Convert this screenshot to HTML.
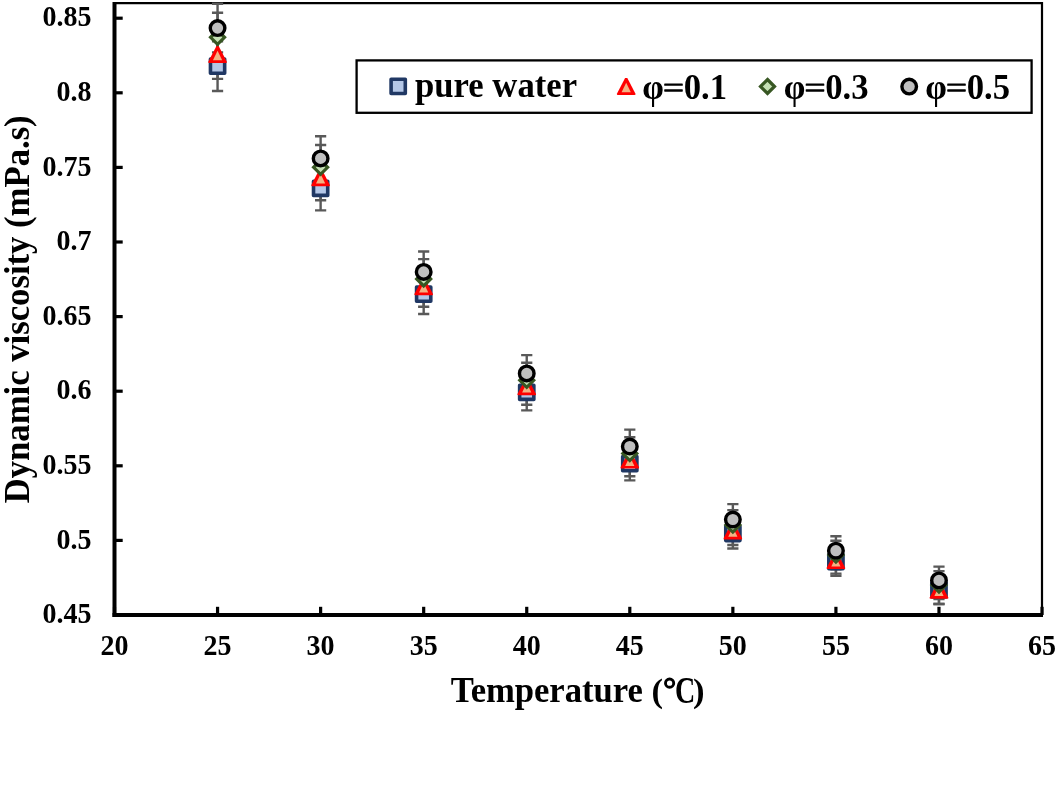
<!DOCTYPE html>
<html><head><meta charset="utf-8"><style>
html,body{margin:0;padding:0;background:#fff;width:1056px;height:787px;overflow:hidden;position:relative}
</style></head><body>
<svg width="1056" height="787" viewBox="0 0 1056 787" style="position:absolute;left:0;top:0;will-change:transform"><g fill="none" stroke="#000"><path d="M114.5 3.1 H1042 V615" stroke-width="2.2"/></g><g stroke="#595959" stroke-width="2.4" fill="none"><path d="M217.56 41.40 V91.00 M211.96 41.40 h11.2 M211.96 91.00 h11.2"/><path d="M217.56 29.90 V78.90 M211.96 29.90 h11.2 M211.96 78.90 h11.2"/><path d="M217.56 12.70 V61.90 M211.96 12.70 h11.2 M211.96 61.90 h11.2"/><path d="M217.56 3.80 V52.40 M211.96 3.80 h11.2 M211.96 52.40 h11.2"/><path d="M320.62 166.20 V210.40 M315.02 166.20 h11.2 M315.02 210.40 h11.2"/><path d="M320.62 155.10 V200.30 M315.02 155.10 h11.2 M315.02 200.30 h11.2"/><path d="M320.62 145.00 V189.60 M315.02 145.00 h11.2 M315.02 189.60 h11.2"/><path d="M320.62 136.20 V180.60 M315.02 136.20 h11.2 M315.02 180.60 h11.2"/><path d="M423.68 274.20 V314.00 M418.08 274.20 h11.2 M418.08 314.00 h11.2"/><path d="M423.68 266.90 V306.70 M418.08 266.90 h11.2 M418.08 306.70 h11.2"/><path d="M423.68 259.10 V298.90 M418.08 259.10 h11.2 M418.08 298.90 h11.2"/><path d="M423.68 251.50 V292.30 M418.08 251.50 h11.2 M418.08 292.30 h11.2"/><path d="M526.74 374.20 V410.40 M521.14 374.20 h11.2 M521.14 410.40 h11.2"/><path d="M526.74 368.70 V404.70 M521.14 368.70 h11.2 M521.14 404.70 h11.2"/><path d="M526.74 362.70 V397.90 M521.14 362.70 h11.2 M521.14 397.90 h11.2"/><path d="M526.74 355.10 V391.70 M521.14 355.10 h11.2 M521.14 391.70 h11.2"/><path d="M629.80 446.80 V480.40 M624.20 446.80 h11.2 M624.20 480.40 h11.2"/><path d="M629.80 443.90 V476.30 M624.20 443.90 h11.2 M624.20 476.30 h11.2"/><path d="M629.80 437.20 V470.00 M624.20 437.20 h11.2 M624.20 470.00 h11.2"/><path d="M629.80 429.60 V463.40 M624.20 429.60 h11.2 M624.20 463.40 h11.2"/><path d="M732.86 518.50 V548.50 M727.26 518.50 h11.2 M727.26 548.50 h11.2"/><path d="M732.86 516.80 V545.00 M727.26 516.80 h11.2 M727.26 545.00 h11.2"/><path d="M732.86 510.10 V540.10 M727.26 510.10 h11.2 M727.26 540.10 h11.2"/><path d="M732.86 504.10 V534.90 M727.26 504.10 h11.2 M727.26 534.90 h11.2"/><path d="M835.92 547.70 V575.70 M830.32 547.70 h11.2 M830.32 575.70 h11.2"/><path d="M835.92 547.60 V573.60 M830.32 547.60 h11.2 M830.32 573.60 h11.2"/><path d="M835.92 540.80 V569.40 M830.32 540.80 h11.2 M830.32 569.40 h11.2"/><path d="M835.92 536.20 V565.20 M830.32 536.20 h11.2 M830.32 565.20 h11.2"/><path d="M938.98 575.60 V604.00 M933.38 575.60 h11.2 M933.38 604.00 h11.2"/><path d="M938.98 576.40 V604.00 M933.38 576.40 h11.2 M933.38 604.00 h11.2"/><path d="M938.98 571.10 V599.10 M933.38 571.10 h11.2 M933.38 599.10 h11.2"/><path d="M938.98 566.60 V594.20 M933.38 566.60 h11.2 M933.38 594.20 h11.2"/></g><g stroke="#000" fill="none"><path d="M114.5 2 V617" stroke-width="4"/><path d="M112.5 615 H1043" stroke-width="4"/><path d="M114 615.00 H122.7" stroke-width="3.2"/><path d="M114 540.40 H122.7" stroke-width="3.2"/><path d="M114 465.80 H122.7" stroke-width="3.2"/><path d="M114 391.20 H122.7" stroke-width="3.2"/><path d="M114 316.60 H122.7" stroke-width="3.2"/><path d="M114 242.00 H122.7" stroke-width="3.2"/><path d="M114 167.40 H122.7" stroke-width="3.2"/><path d="M114 92.80 H122.7" stroke-width="3.2"/><path d="M114 18.20 H122.7" stroke-width="3.2"/><path d="M114.50 615 V606.8" stroke-width="3.2"/><path d="M217.56 615 V606.8" stroke-width="3.2"/><path d="M320.62 615 V606.8" stroke-width="3.2"/><path d="M423.68 615 V606.8" stroke-width="3.2"/><path d="M526.74 615 V606.8" stroke-width="3.2"/><path d="M629.80 615 V606.8" stroke-width="3.2"/><path d="M732.86 615 V606.8" stroke-width="3.2"/><path d="M835.92 615 V606.8" stroke-width="3.2"/><path d="M938.98 615 V606.8" stroke-width="3.2"/><path d="M1042.04 615 V606.8" stroke-width="3.2"/></g><rect x="210.46" y="59.10" width="14.2" height="14.2" fill="#B4C7E7" stroke="#203864" stroke-width="3.6" stroke-linejoin="round"/><rect x="313.52" y="181.20" width="14.2" height="14.2" fill="#B4C7E7" stroke="#203864" stroke-width="3.6" stroke-linejoin="round"/><rect x="416.58" y="287.00" width="14.2" height="14.2" fill="#B4C7E7" stroke="#203864" stroke-width="3.6" stroke-linejoin="round"/><rect x="519.64" y="385.20" width="14.2" height="14.2" fill="#B4C7E7" stroke="#203864" stroke-width="3.6" stroke-linejoin="round"/><rect x="622.70" y="456.50" width="14.2" height="14.2" fill="#B4C7E7" stroke="#203864" stroke-width="3.6" stroke-linejoin="round"/><rect x="725.76" y="526.40" width="14.2" height="14.2" fill="#B4C7E7" stroke="#203864" stroke-width="3.6" stroke-linejoin="round"/><rect x="828.82" y="554.60" width="14.2" height="14.2" fill="#B4C7E7" stroke="#203864" stroke-width="3.6" stroke-linejoin="round"/><rect x="931.88" y="582.70" width="14.2" height="14.2" fill="#B4C7E7" stroke="#203864" stroke-width="3.6" stroke-linejoin="round"/><path d="M216.46 46.00 L218.66 46.00 L226.71 61.40 Q227.46 62.90 225.76 62.90 L209.36 62.90 Q207.66 62.90 208.41 61.40 Z" fill="#FF0000"/><path d="M217.56 50.70 L222.16 60.20 L212.96 60.20 Z" fill="#F4B183"/><path d="M319.52 169.30 L321.72 169.30 L329.77 184.70 Q330.52 186.20 328.82 186.20 L312.42 186.20 Q310.72 186.20 311.47 184.70 Z" fill="#FF0000"/><path d="M320.62 174.00 L325.22 183.50 L316.02 183.50 Z" fill="#F4B183"/><path d="M422.58 278.40 L424.78 278.40 L432.83 293.80 Q433.58 295.30 431.88 295.30 L415.48 295.30 Q413.78 295.30 414.53 293.80 Z" fill="#FF0000"/><path d="M423.68 283.10 L428.28 292.60 L419.08 292.60 Z" fill="#F4B183"/><path d="M525.64 378.30 L527.84 378.30 L535.89 393.70 Q536.64 395.20 534.94 395.20 L518.54 395.20 Q516.84 395.20 517.59 393.70 Z" fill="#FF0000"/><path d="M526.74 383.00 L531.34 392.50 L522.14 392.50 Z" fill="#F4B183"/><path d="M628.70 451.70 L630.90 451.70 L638.95 467.10 Q639.70 468.60 638.00 468.60 L621.60 468.60 Q619.90 468.60 620.65 467.10 Z" fill="#FF0000"/><path d="M629.80 456.40 L634.40 465.90 L625.20 465.90 Z" fill="#F4B183"/><path d="M731.76 522.50 L733.96 522.50 L742.01 537.90 Q742.76 539.40 741.06 539.40 L724.66 539.40 Q722.96 539.40 723.71 537.90 Z" fill="#FF0000"/><path d="M732.86 527.20 L737.46 536.70 L728.26 536.70 Z" fill="#F4B183"/><path d="M834.82 552.20 L837.02 552.20 L845.07 567.60 Q845.82 569.10 844.12 569.10 L827.72 569.10 Q826.02 569.10 826.77 567.60 Z" fill="#FF0000"/><path d="M835.92 556.90 L840.52 566.40 L831.32 566.40 Z" fill="#F4B183"/><path d="M937.88 581.80 L940.08 581.80 L948.13 597.20 Q948.88 598.70 947.18 598.70 L930.78 598.70 Q929.08 598.70 929.83 597.20 Z" fill="#FF0000"/><path d="M938.98 586.50 L943.58 596.00 L934.38 596.00 Z" fill="#F4B183"/><path d="M217.56 30.30 L224.56 37.30 L217.56 44.30 L210.56 37.30 Z" fill="#C5E0B4" stroke="#385723" stroke-width="3.2" stroke-linejoin="miter"/><path d="M320.62 160.30 L327.62 167.30 L320.62 174.30 L313.62 167.30 Z" fill="#C5E0B4" stroke="#385723" stroke-width="3.2" stroke-linejoin="miter"/><path d="M423.68 272.00 L430.68 279.00 L423.68 286.00 L416.68 279.00 Z" fill="#C5E0B4" stroke="#385723" stroke-width="3.2" stroke-linejoin="miter"/><path d="M526.74 373.30 L533.74 380.30 L526.74 387.30 L519.74 380.30 Z" fill="#C5E0B4" stroke="#385723" stroke-width="3.2" stroke-linejoin="miter"/><path d="M629.80 446.60 L636.80 453.60 L629.80 460.60 L622.80 453.60 Z" fill="#C5E0B4" stroke="#385723" stroke-width="3.2" stroke-linejoin="miter"/><path d="M732.86 518.10 L739.86 525.10 L732.86 532.10 L725.86 525.10 Z" fill="#C5E0B4" stroke="#385723" stroke-width="3.2" stroke-linejoin="miter"/><path d="M835.92 548.10 L842.92 555.10 L835.92 562.10 L828.92 555.10 Z" fill="#C5E0B4" stroke="#385723" stroke-width="3.2" stroke-linejoin="miter"/><path d="M938.98 578.10 L945.98 585.10 L938.98 592.10 L931.98 585.10 Z" fill="#C5E0B4" stroke="#385723" stroke-width="3.2" stroke-linejoin="miter"/><circle cx="217.56" cy="28.10" r="7.3" fill="#BFBFBF" stroke="#000" stroke-width="3.4"/><circle cx="320.62" cy="158.40" r="7.3" fill="#BFBFBF" stroke="#000" stroke-width="3.4"/><circle cx="423.68" cy="271.90" r="7.3" fill="#BFBFBF" stroke="#000" stroke-width="3.4"/><circle cx="526.74" cy="373.40" r="7.3" fill="#BFBFBF" stroke="#000" stroke-width="3.4"/><circle cx="629.80" cy="446.50" r="7.3" fill="#BFBFBF" stroke="#000" stroke-width="3.4"/><circle cx="732.86" cy="519.50" r="7.3" fill="#BFBFBF" stroke="#000" stroke-width="3.4"/><circle cx="835.92" cy="550.70" r="7.3" fill="#BFBFBF" stroke="#000" stroke-width="3.4"/><circle cx="938.98" cy="580.40" r="7.3" fill="#BFBFBF" stroke="#000" stroke-width="3.4"/><g style="font-family:'Liberation Serif',serif;font-weight:bold;font-size:28px" fill="#000"><text x="91.5" y="623.30" text-anchor="end" transform="matrix(1 0 0 1.04 0 -24.932)">0.45</text><text x="91.5" y="548.70" text-anchor="end" transform="matrix(1 0 0 1.04 0 -21.948)">0.5</text><text x="91.5" y="474.10" text-anchor="end" transform="matrix(1 0 0 1.04 0 -18.964)">0.55</text><text x="91.5" y="399.50" text-anchor="end" transform="matrix(1 0 0 1.04 0 -15.980)">0.6</text><text x="91.5" y="324.90" text-anchor="end" transform="matrix(1 0 0 1.04 0 -12.996)">0.65</text><text x="91.5" y="250.30" text-anchor="end" transform="matrix(1 0 0 1.04 0 -10.012)">0.7</text><text x="91.5" y="175.70" text-anchor="end" transform="matrix(1 0 0 1.04 0 -7.028)">0.75</text><text x="91.5" y="101.10" text-anchor="end" transform="matrix(1 0 0 1.04 0 -4.044)">0.8</text><text x="91.5" y="26.50" text-anchor="end" transform="matrix(1 0 0 1.04 0 -1.060)">0.85</text><text x="114.50" y="655.3" text-anchor="middle" transform="matrix(1 0 0 1.04 0 -26.212)">20</text><text x="217.56" y="655.3" text-anchor="middle" transform="matrix(1 0 0 1.04 0 -26.212)">25</text><text x="320.62" y="655.3" text-anchor="middle" transform="matrix(1 0 0 1.04 0 -26.212)">30</text><text x="423.68" y="655.3" text-anchor="middle" transform="matrix(1 0 0 1.04 0 -26.212)">35</text><text x="526.74" y="655.3" text-anchor="middle" transform="matrix(1 0 0 1.04 0 -26.212)">40</text><text x="629.80" y="655.3" text-anchor="middle" transform="matrix(1 0 0 1.04 0 -26.212)">45</text><text x="732.86" y="655.3" text-anchor="middle" transform="matrix(1 0 0 1.04 0 -26.212)">50</text><text x="835.92" y="655.3" text-anchor="middle" transform="matrix(1 0 0 1.04 0 -26.212)">55</text><text x="938.98" y="655.3" text-anchor="middle" transform="matrix(1 0 0 1.04 0 -26.212)">60</text><text x="1042.04" y="655.3" text-anchor="middle" transform="matrix(1 0 0 1.04 0 -26.212)">65</text></g><g style="font-family:'Liberation Serif',serif;font-weight:bold;font-size:34.67px"><text x="450.8" y="701.9" textLength="192" lengthAdjust="spacing" transform="matrix(1 0 0 1.04 0 -28.076)">Temperature</text><text x="651.4" y="701.9">(</text><circle cx="669.6" cy="683.15" r="4.1" fill="none" stroke="#000" stroke-width="2.9"/><text transform="translate(675.1 702.9) scale(0.81 1.07)">C</text><text x="692.9" y="701.9">)</text></g><text transform="translate(29.2 309.3) rotate(-90) scale(1 1.04)" text-anchor="middle" style="font-family:'Liberation Serif',serif;font-weight:bold;font-size:34.67px">Dynamic viscosity (mPa.s)</text><rect x="356.6" y="60.4" width="675" height="52.4" fill="#fff" stroke="#000" stroke-width="2.3"/><rect x="391.10" y="79.30" width="14.2" height="14.2" fill="#B4C7E7" stroke="#203864" stroke-width="3.6" stroke-linejoin="round"/><path d="M625.10 78.10 L627.30 78.10 L635.35 93.50 Q636.10 95.00 634.40 95.00 L618.00 95.00 Q616.30 95.00 617.05 93.50 Z" fill="#FF0000"/><path d="M626.20 82.80 L630.80 92.30 L621.60 92.30 Z" fill="#F4B183"/><path d="M767.50 79.50 L774.50 86.50 L767.50 93.50 L760.50 86.50 Z" fill="#C5E0B4" stroke="#385723" stroke-width="3.2" stroke-linejoin="miter"/><circle cx="909.20" cy="86.60" r="7.3" fill="#BFBFBF" stroke="#000" stroke-width="3.4"/><g style="font-family:'Liberation Serif',serif;font-weight:bold;font-size:34.67px" fill="#000"><text x="415" y="97.2" transform="matrix(1 0 0 1.04 0 -3.888)">pure water</text><text x="642.36" y="99.2" transform="matrix(1 0 0 1.04 0 -3.968)">φ</text><rect x="664.20" y="83.4" width="18.6" height="2.4" rx="0.6"/><rect x="664.20" y="89.2" width="18.6" height="2.5" rx="0.6"/><text x="683.70" y="99.2" transform="matrix(1 0 0 1.04 0 -3.968)">0.1</text><text x="783.86" y="99.2" transform="matrix(1 0 0 1.04 0 -3.968)">φ</text><rect x="805.70" y="83.4" width="18.6" height="2.4" rx="0.6"/><rect x="805.70" y="89.2" width="18.6" height="2.5" rx="0.6"/><text x="825.20" y="99.2" transform="matrix(1 0 0 1.04 0 -3.968)">0.3</text><text x="925.36" y="99.2" transform="matrix(1 0 0 1.04 0 -3.968)">φ</text><rect x="947.20" y="83.4" width="18.6" height="2.4" rx="0.6"/><rect x="947.20" y="89.2" width="18.6" height="2.5" rx="0.6"/><text x="966.70" y="99.2" transform="matrix(1 0 0 1.04 0 -3.968)">0.5</text></g></svg>
</body></html>
